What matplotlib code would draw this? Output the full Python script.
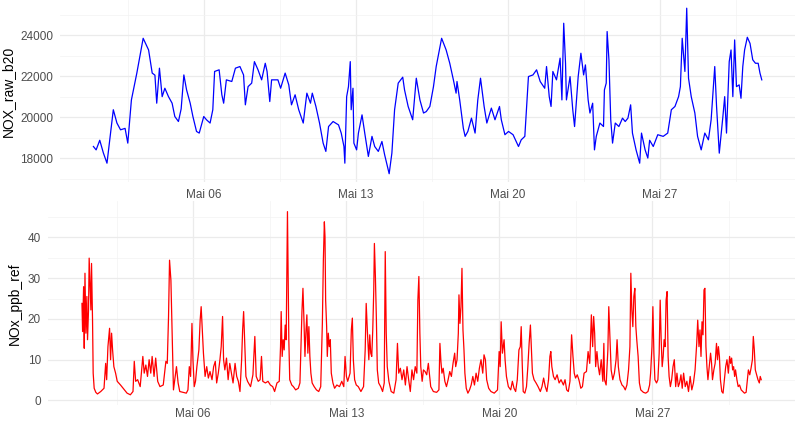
import pandas as pd
import matplotlib
matplotlib.use("Agg")
import matplotlib.pyplot as plt
import matplotlib.dates as mdates
from matplotlib.ticker import FixedLocator, FuncFormatter

plt.rcParams["font.family"] = ["Liberation Sans", "DejaVu Sans"]

# hours since 2023-04-30 22:00 and sensor values
start = pd.Timestamp("2023-04-30 22:00")

raw_hours = [0, 3, 7, 11, 15, 18, 22, 26, 30, 35, 38, 42, 48, 55, 61, 65, 68, 70, 73, 76,
             79, 83, 87, 90, 94, 97, 100, 103, 107, 110, 114, 117, 122, 125, 129, 132, 134, 139, 142, 144,
             147, 153, 157, 162, 166, 168, 171, 175, 178, 182, 186, 190, 192, 195, 197, 204, 207, 212, 216, 219,
             223, 227, 232, 236, 240, 242, 246, 250, 254, 257, 260, 265, 271, 274, 277, 278, 280, 282, 284, 285,
             287, 288, 291, 293, 297, 300, 304, 308, 311, 315, 319, 322, 327, 330, 333, 337, 342, 344, 348, 353,
             357, 361, 365, 368, 372, 376, 379, 385, 390, 394, 398, 401, 402, 405, 409, 411, 414, 418, 422, 425,
             428, 432, 435, 440, 444, 449, 451, 455, 459, 464, 470, 473, 477, 481, 486, 490, 494, 499, 501, 504,
             506, 508, 512, 516, 518, 520, 522, 523, 527, 530, 532, 536, 539, 542, 544, 547, 549, 552, 554, 556,
             560, 564, 565, 567, 568, 570, 572, 574, 577, 581, 585, 588, 591, 594, 596, 600, 604, 606, 610, 613,
             615, 619, 624, 630, 635, 639, 643, 647, 649, 651, 654, 656, 658, 661, 665, 668, 672, 676, 680, 683,
             687, 689, 692, 696, 698, 700, 703, 705, 707, 709, 711, 714, 716, 718, 720, 723, 726, 729, 732, 735,
             737, 739]
nox_raw_b20 = [18565, 18400, 18870, 18250, 17750, 18870, 20360, 19710, 19380, 19450, 18730, 20840, 22150, 23850, 23280, 22150, 22050, 20680, 22390, 21000,
               21410, 21000, 20680, 20030, 19785, 20400, 22060, 21330, 20680, 20030, 19300, 19220, 20030, 19870, 19710, 20360, 22230, 22310, 21090, 20680,
               21820, 21740, 22390, 22470, 22060, 20600, 21490, 21660, 22710, 22310, 21820, 22630, 22230, 20760, 21820, 21820, 21410, 22150, 21575, 20600,
               21090, 20360, 19710, 21170, 20680, 21170, 20520, 19710, 18730, 18325, 19540, 19785, 19620, 19220, 18565, 17750, 21000, 21490, 22710, 20360,
               21410, 18730, 18400, 19220, 20110, 19220, 18080, 19060, 18565, 18325, 18810, 18160, 17235, 18240, 20360, 21660, 21950, 21330, 20520, 19870,
               21900, 20840, 20200, 20270, 20520, 21490, 22470, 23850, 23280, 22630, 21820, 21170, 21740, 20840, 19460, 19060, 19300, 19950, 19220, 20840,
               21900, 20520, 19710, 20440, 19870, 20520, 19870, 19140, 19300, 19140, 18565, 18890, 19060, 21980, 22060, 22310, 21740, 21410, 22470, 21000,
               20520, 22230, 21820, 22880, 20840, 24585, 22630, 20840, 21980, 20360, 19540, 21980, 23120, 22060, 22550, 20840, 20200, 20680, 18400, 19060,
               19710, 19540, 21330, 21660, 24180, 22800, 19870, 18730, 19710, 19540, 19950, 19785, 19950, 20600, 19220, 18400, 17750, 19220, 18400, 18000,
               18870, 18565, 19140, 19060, 19220, 20360, 20520, 21000, 21490, 23850, 22230, 25320, 21900, 21000, 20200, 19060, 18400, 19220, 18890, 19870,
               22470, 20520, 18240, 20030, 21000, 19220, 22710, 23280, 21000, 23770, 21490, 21575, 20920, 22470, 23280, 23900, 23600, 22800, 22630, 22630,
               22150, 21820]

ref_hours = [0.0, 0.7, 1.8, 2.5, 3.3, 4.3, 5.4, 6.1, 7.2, 7.9, 9.0, 9.8, 10.5, 11.6, 12.3, 13.4, 15.2, 17.0, 20.6, 24.2,
             26.0, 27.1, 28.5, 30.3, 31.4, 32.5, 33.6, 35.0, 36.9, 38.7, 42.3, 45.9, 49.5, 53.1, 56.0, 57.4, 58.9, 61.1, 63.9, 66.8,
             68.3, 70.1, 71.9, 73.7, 75.5, 77.0, 79.1, 80.9, 83.1, 85.6, 89.2, 92.1, 93.6, 95.0, 96.1, 97.6, 99.0, 100.4, 101.9, 103.7,
             105.5, 107.3, 110.9, 114.5, 116.3, 117.8, 119.2, 120.7, 121.8, 123.2, 124.6, 126.1, 128.3, 129.7, 130.8, 131.9, 133.3, 135.1, 136.9, 138.7,
             140.5, 142.7, 144.5, 146.3, 147.8, 149.6, 151.4, 152.8, 154.3, 155.4, 156.8, 158.6, 160.4, 162.2, 164.0, 165.8, 168.0, 169.8, 171.6, 173.4,
             175.2, 176.3, 177.4, 178.5, 179.9, 181.7, 185.0, 187.6, 189.7, 191.2, 193.4, 195.5, 197.0, 198.4, 201.3, 204.2, 206.7, 209.3, 211.4, 214.0,
             216.5, 217.9, 218.6, 219.7, 220.8, 221.9, 223.0, 224.1, 224.8, 225.5, 226.2, 227.0, 228.0, 230.2, 232.0, 234.5, 237.4, 239.2, 240.3, 241.4,
             242.5, 243.6, 244.7, 245.7, 246.8, 247.9, 249.0, 250.1, 251.2, 252.6, 254.8, 257.3, 259.8, 262.0, 263.8, 264.9, 266.0, 266.7, 267.4, 268.5,
             269.2, 270.3, 271.4, 272.5, 273.6, 275.4, 277.2, 279.7, 282.6, 285.1, 287.3, 288.7, 290.2, 291.6, 294.2, 295.6, 296.7, 297.8, 299.2, 301.0,
             303.2, 306.1, 309.0, 310.8, 311.9, 313.3, 314.8, 315.8, 316.9, 318.0, 319.1, 320.2, 320.9, 322.0, 323.1, 324.1, 325.6, 327.8, 329.9, 331.7,
             332.8, 333.9, 335.0, 336.8, 339.3, 342.2, 344.7, 346.2, 347.6, 349.4, 351.2, 353.1, 354.9, 356.7, 358.5, 360.3, 362.1, 363.9, 365.7, 367.5,
             368.6, 369.7, 370.8, 371.8, 373.3, 374.7, 376.5, 378.3, 380.1, 381.2, 382.7, 385.6, 389.2, 391.7, 392.8, 393.9, 395.0, 396.4, 398.2, 400.0,
             401.8, 403.6, 405.4, 407.2, 409.0, 410.1, 411.6, 413.0, 413.7, 414.8, 415.9, 417.0, 418.1, 419.2, 420.2, 421.7, 423.5, 425.3, 427.1, 428.9,
             430.7, 432.5, 434.3, 436.1, 437.9, 439.8, 441.2, 442.7, 444.1, 446.3, 448.8, 452.4, 456.0, 457.8, 458.9, 460.0, 461.4, 463.2, 464.3, 465.8,
             467.9, 470.5, 472.3, 474.1, 475.9, 477.7, 479.5, 481.0, 482.0, 483.1, 484.2, 486.0, 487.8, 489.3, 490.7, 492.1, 493.2, 494.3, 496.1, 498.3,
             500.5, 503.0, 504.8, 506.6, 508.4, 510.2, 512.0, 513.5, 514.5, 515.6, 517.4, 519.2, 521.4, 523.6, 525.7, 528.3, 530.1, 531.9, 533.7, 535.5,
             537.3, 538.8, 540.2, 541.6, 543.5, 545.3, 547.4, 549.2, 551.0, 553.6, 555.4, 557.2, 559.0, 560.4, 561.5, 562.6, 563.7, 565.1, 566.6, 568.0,
             569.8, 571.6, 572.7, 573.4, 575.2, 577.1, 578.1, 579.2, 580.7, 582.5, 584.3, 586.1, 587.2, 588.6, 590.4, 592.6, 594.4, 596.2, 598.0, 599.8,
             601.3, 602.3, 603.4, 604.5, 605.6, 606.7, 607.8, 608.8, 610.3, 611.7, 613.2, 616.1, 618.6, 621.1, 622.9, 624.0, 625.5, 626.5, 627.6, 628.7,
             630.5, 632.0, 633.4, 634.5, 635.6, 636.7, 637.8, 638.8, 639.9, 641.0, 642.1, 643.2, 644.3, 645.7, 647.1, 648.6, 650.0, 651.5, 652.9, 654.4,
             655.8, 657.3, 658.7, 660.2, 662.0, 663.8, 665.6, 667.4, 669.2, 671.0, 672.8, 674.6, 675.7, 677.1, 678.2, 679.3, 680.4, 681.5, 682.6, 683.6,
             684.7, 685.8, 686.9, 688.3, 689.8, 690.9, 691.9, 693.4, 694.8, 696.3, 697.4, 698.4, 699.5, 700.6, 702.1, 703.5, 705.0, 706.4, 707.8, 709.3,
             710.7, 711.8, 712.9, 714.0, 715.1, 716.2, 717.2, 718.7, 720.1, 721.6, 723.4, 725.2, 727.0, 728.8, 730.2, 731.3, 732.8, 734.2, 735.7, 736.7,
             737.8, 738.9, 740.4, 741.8, 743.3, 744.3, 745.4]
nox_ppb_ref = [23.8, 16.9, 27.9, 12.8, 31.2, 16.5, 25.5, 14.9, 22.2, 34.9, 27.9, 22.2, 33.6, 19.7, 6.7, 3.0, 2.0, 1.6, 2.2, 3.0,
               9.1, 5.1, 13.2, 17.7, 10.0, 16.5, 12.4, 8.3, 6.7, 4.7, 3.8, 2.8, 1.8, 1.4, 2.2, 9.6, 4.7, 5.1, 3.4, 10.8,
               6.7, 8.7, 5.9, 10.0, 6.7, 10.8, 5.9, 10.4, 4.7, 3.4, 3.8, 9.6, 9.1, 20.6, 34.4, 29.5, 16.5, 2.6, 5.1, 8.3,
               4.3, 2.2, 2.0, 1.8, 2.6, 8.3, 5.9, 18.9, 10.0, 3.4, 4.7, 8.3, 12.4, 19.7, 23.0, 18.1, 11.6, 5.9, 8.3, 5.5,
               7.1, 5.1, 8.3, 9.6, 4.3, 6.7, 10.0, 13.2, 20.6, 10.0, 7.5, 10.4, 5.1, 9.1, 6.7, 4.3, 9.1, 5.9, 4.7, 2.2,
               10.0, 17.3, 21.8, 14.9, 5.9, 4.7, 3.4, 6.3, 15.7, 5.9, 4.7, 5.1, 10.8, 4.7, 4.3, 4.7, 3.8, 3.4, 2.2, 4.3,
               4.7, 13.2, 21.8, 10.8, 14.9, 12.4, 18.5, 14.9, 32.0, 46.3, 32.4, 14.9, 5.1, 3.8, 3.4, 2.6, 3.0, 4.3, 13.2, 21.8,
               27.5, 19.7, 10.8, 16.5, 21.0, 11.6, 18.1, 10.8, 6.7, 4.3, 3.4, 2.6, 2.2, 3.4, 18.9, 34.4, 43.8, 40.1, 24.6, 18.1,
               10.8, 16.5, 13.2, 14.9, 6.7, 4.3, 3.0, 3.8, 3.4, 4.7, 3.4, 10.8, 5.9, 4.7, 6.7, 17.3, 20.2, 10.0, 5.1, 3.8,
               3.4, 2.2, 3.4, 12.4, 23.8, 16.5, 10.0, 16.1, 11.6, 10.8, 17.3, 27.1, 38.5, 30.4, 19.7, 7.5, 4.3, 3.4, 2.2, 4.3,
               36.5, 16.5, 8.3, 4.7, 2.2, 1.8, 5.1, 14.0, 6.7, 7.9, 5.1, 7.5, 3.8, 8.3, 5.1, 2.2, 7.5, 5.1, 8.3, 6.7,
               24.6, 30.4, 16.5, 8.3, 4.7, 7.5, 7.1, 6.3, 9.1, 6.7, 3.4, 2.2, 2.0, 2.6, 14.0, 9.6, 6.7, 7.9, 4.7, 3.4,
               5.1, 7.1, 5.9, 9.1, 11.6, 8.3, 10.0, 16.5, 25.9, 18.9, 23.0, 32.4, 17.3, 12.4, 6.7, 3.0, 1.8, 2.6, 3.8, 5.9,
               3.8, 6.7, 4.7, 7.9, 10.0, 6.7, 11.2, 10.0, 5.1, 3.0, 2.2, 1.8, 2.6, 12.0, 8.3, 19.3, 11.6, 14.9, 10.0, 5.9,
               3.4, 2.6, 4.7, 3.0, 2.2, 5.1, 12.4, 13.2, 18.1, 9.1, 2.2, 1.8, 3.4, 8.3, 14.0, 18.5, 12.4, 6.7, 5.1, 4.3,
               3.4, 2.2, 3.4, 5.5, 3.4, 2.2, 5.1, 10.8, 12.0, 8.3, 5.9, 5.1, 6.3, 4.3, 5.1, 3.8, 5.1, 2.6, 2.2, 4.7,
               16.1, 10.8, 6.7, 5.5, 6.3, 5.1, 3.0, 3.4, 6.7, 7.1, 12.0, 9.1, 21.0, 13.2, 20.6, 16.5, 8.3, 12.0, 8.3, 6.3,
               10.0, 4.7, 14.0, 5.1, 3.8, 12.4, 23.0, 16.5, 7.5, 5.1, 6.7, 10.0, 14.9, 8.3, 5.1, 3.8, 3.4, 2.6, 3.8, 7.5,
               13.2, 31.2, 22.2, 18.1, 25.5, 27.5, 18.1, 14.9, 10.8, 4.3, 2.6, 2.0, 1.8, 2.2, 3.8, 6.7, 13.2, 23.0, 11.6, 5.1,
               4.3, 5.1, 11.6, 24.6, 14.9, 8.3, 10.8, 14.9, 13.2, 24.6, 26.7, 10.8, 5.9, 3.4, 5.1, 8.3, 10.0, 3.4, 6.7, 3.4,
               4.3, 6.3, 3.0, 6.7, 3.4, 4.7, 2.2, 5.9, 2.6, 4.3, 7.5, 14.0, 19.7, 13.2, 17.3, 10.8, 19.3, 16.1, 27.1, 27.5,
               13.2, 8.3, 5.1, 8.3, 11.6, 9.1, 5.1, 7.5, 9.1, 14.0, 10.0, 13.2, 10.8, 5.1, 2.2, 1.8, 5.1, 8.3, 10.0, 6.7,
               10.8, 9.1, 10.4, 7.5, 8.3, 5.9, 7.5, 5.1, 3.4, 3.8, 2.6, 2.2, 1.8, 2.0, 5.1, 7.5, 6.3, 7.9, 10.0, 15.7,
               12.4, 7.5, 6.3, 5.1, 4.3, 5.9, 5.1]

raw_time = start + pd.to_timedelta(raw_hours, unit="h")
ref_time = start + pd.to_timedelta(ref_hours, unit="h")

monate = ["Jan", "Feb", "Mär", "Apr", "Mai", "Jun", "Jul", "Aug", "Sep", "Okt", "Nov", "Dez"]
major_days = pd.to_datetime(["2023-05-06", "2023-05-13", "2023-05-20", "2023-05-27"])
minor_days = pd.to_datetime(["2023-05-02 12:00", "2023-05-09 12:00", "2023-05-16 12:00",
                             "2023-05-23 12:00", "2023-05-30 12:00"])


def fmt_date(x, pos):
    d = mdates.num2date(x)
    return f"{monate[d.month - 1]} {d.day:02d}"


fig = plt.figure(figsize=(8, 4.23), dpi=100)
ax1 = fig.add_axes([0.075, 0.5697, 0.919, 0.4303])
ax2 = fig.add_axes([0.060, 0.0426, 0.934, 0.4812])

ax1.plot(raw_time, nox_raw_b20, color="blue", lw=0.9)
ax2.plot(ref_time, nox_ppb_ref, color="red", lw=0.9)

ax1.set_ylim(16830, 25720)
ax2.set_ylim(-1.1, 48.8)
ax1.set_yticks([18000, 20000, 22000, 24000])
ax1.set_yticks([17000, 19000, 21000, 23000, 25000], minor=True)
ax2.set_yticks([0, 10, 20, 30, 40])
ax2.set_yticks([5, 15, 25, 35, 45], minor=True)
ax1.set_ylabel("NOX_raw_b20", fontsize=10, labelpad=4)
ax2.set_ylabel("NOx_ppb_ref", fontsize=10, labelpad=4)

for ax in (ax1, ax2):
    ax.margins(x=0.05)
    ax.xaxis.set_major_locator(FixedLocator(mdates.date2num(major_days)))
    ax.xaxis.set_minor_locator(FixedLocator(mdates.date2num(minor_days)))
    ax.xaxis.set_major_formatter(FuncFormatter(fmt_date))
    ax.set_facecolor("white")
    for s in ax.spines.values():
        s.set_visible(False)
    ax.grid(which="major", color="#EBEBEB", lw=0.9)
    ax.grid(which="minor", color="#F3F3F3", lw=0.5)
    ax.set_axisbelow(True)
    ax.tick_params(which="both", length=0, labelsize=8.5, labelcolor="#4D4D4D", pad=5)
ax2.tick_params(axis="x", pad=2)

fig.savefig("out.png", dpi=100)
